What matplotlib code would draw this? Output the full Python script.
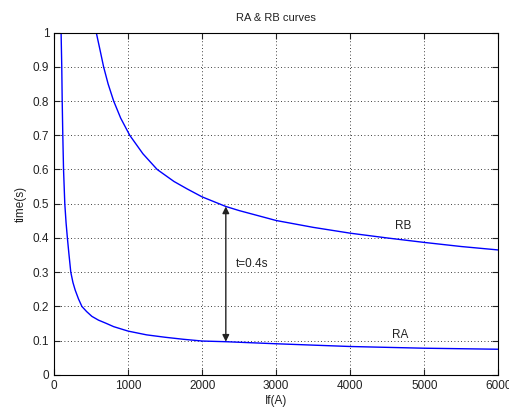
import matplotlib
matplotlib.use("Agg")
import matplotlib.pyplot as plt

plt.rcParams["font.family"] = ["Liberation Sans", "DejaVu Sans"]

# RA curve (fast relay)
ra_current = [95, 104, 110, 118, 128, 145, 162, 180, 200, 226, 255, 285, 330,
              376, 440, 511, 600, 700, 805, 1000, 1250, 1500, 1750, 2000, 2320,
              3000, 4000, 5000, 6000]
ra_time = [1.0, 0.9, 0.8, 0.7, 0.6, 0.5, 0.445, 0.4, 0.355, 0.3, 0.27, 0.248,
           0.222, 0.2, 0.185, 0.171, 0.16, 0.151, 0.141, 0.128, 0.117, 0.11,
           0.104, 0.099, 0.097, 0.091, 0.083, 0.078, 0.075]

# RB curve (backup relay)
rb_current = [570, 620, 669, 730, 805, 900, 1022, 1200, 1393, 1620, 1800, 2000,
              2320, 2500, 3000, 3500, 4000, 4500, 5000, 5500, 6000]
rb_time = [1.0, 0.95, 0.9, 0.85, 0.8, 0.75, 0.7, 0.646, 0.6, 0.565, 0.543,
           0.52, 0.492, 0.48, 0.451, 0.431, 0.414, 0.40, 0.387, 0.375, 0.365]

x_ticks = [0, 1000, 2000, 3000, 4000, 5000, 6000]
y_ticks = [0, 0.1, 0.2, 0.3, 0.4, 0.5, 0.6, 0.7, 0.8, 0.9, 1.0]
y_labels = ["0", "0.1", "0.2", "0.3", "0.4", "0.5", "0.6", "0.7", "0.8", "0.9", "1"]

fig = plt.figure(figsize=(5.1, 4.12), dpi=100)
ax = fig.add_axes([0.106, 0.09, 0.871, 0.831])

ax.plot(ra_current, ra_time, color="#0000ff", lw=1)
ax.plot(rb_current, rb_time, color="#0000ff", lw=1)

ax.set_xlim(0, 6000)
ax.set_ylim(0, 1)
ax.set_xticks(x_ticks)
ax.set_yticks(y_ticks)
ax.set_yticklabels(y_labels)
ax.grid(True, color="black", linestyle=(0, (1, 3)), lw=0.6)
ax.tick_params(direction="in", top=True, right=True, labelsize=8.5, length=4,
               colors="#222222", labelcolor="#222222")
for s in ax.spines.values():
    s.set_linewidth(0.8)

ax.set_title("RA & RB curves", fontsize=8, color="#222222", pad=8)
ax.set_xlabel("If(A)", fontsize=8.5, color="#222222", labelpad=2)
ax.set_ylabel("time(s)", fontsize=8.5, color="#222222", labelpad=4)

# time difference between curves
ax.annotate("", xy=(2320, 0.492), xytext=(2320, 0.097),
            arrowprops=dict(arrowstyle="<|-|>", color="#222222", lw=1,
                            mutation_scale=10, shrinkA=0, shrinkB=0))
ax.text(2460, 0.325, "t=0.4s", fontsize=8.5, color="#222222", va="center")
ax.text(4600, 0.435, "RB", fontsize=8.5, color="#222222", va="center")
ax.text(4560, 0.117, "RA", fontsize=8.5, color="#222222", va="center")

fig.savefig("out.png", dpi=100)
